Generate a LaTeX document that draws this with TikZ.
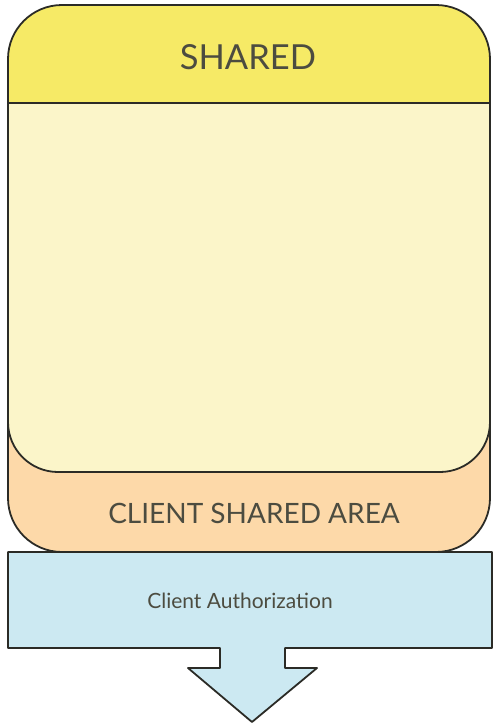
\documentclass[tikz,border=0pt]{standalone}
\usepackage{fontspec}
\setmainfont{Lato}
\usetikzlibrary{positioning}
\definecolor{ink}{HTML}{2B2B26}
\definecolor{label}{HTML}{4C4C40}
\definecolor{sharedtop}{HTML}{F6EA66}
\definecolor{sharedbody}{HTML}{FBF5C9}
\definecolor{clientarea}{HTML}{FDD9A9}
\definecolor{authblue}{HTML}{CCE9F2}
\tikzset{outline/.style={draw=ink,line width=1.8pt,line join=round},
  caption/.style={text=label,inner sep=0pt}}

\begin{document}
\begin{tikzpicture}[x=1pt,y=-1pt]
\useasboundingbox (0,0) rectangle (494,723);
\begin{scope}
\clip[rounded corners=54pt] (8,5) rectangle (490,552);
\fill[clientarea] (0,0) rectangle (494,560);
\fill[sharedbody,rounded corners=50pt] (8,-100) rectangle (490,472);
\draw[outline,rounded corners=50pt] (8,300) -- (8,472) -- (490,472) -- (490,300);
\fill[sharedtop] (0,0) rectangle (494,103);
\draw[outline] (0,103) -- (494,103);
\end{scope}
\draw[outline,rounded corners=54pt] (8,5) rectangle (490,552);
\draw[outline,fill=authblue] (8,552) -- (492,552) -- (492,648) -- (285,648) -- (285,668)
  -- (317,668) -- (252,722) -- (188,668) -- (220,668) -- (220,648) -- (8,648) -- cycle;
\node[caption,font=\fontsize{34.5}{38}\selectfont] (shared) at (248,57) {SHARED};
\node[caption,font=\fontsize{28}{32}\selectfont] (clientarea) at (254,513) {CLIENT SHARED AREA};
\node[caption,font=\fontsize{21}{24}\selectfont] (auth) at (240,601) {Client Authorization};
\end{tikzpicture}
\end{document}
